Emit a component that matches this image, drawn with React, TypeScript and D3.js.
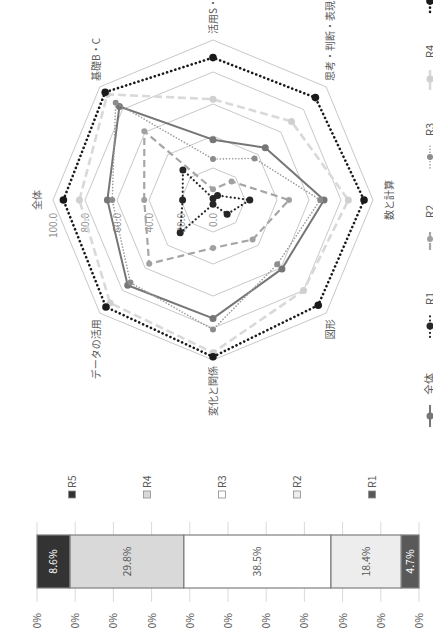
import React from "react";
import * as d3 from "d3";

// ---- Radar data ----
const AXES = ["全体", "基礎B・C", "活用S・A", "思考・判断・表現", "数と計算", "図形", "変化と関係", "データの活用"];
const S_ALL = [66, 82.7, 37.7, 46.2, 69.4, 60.9, 74, 75.4];
const S_R1 = [19, 26.6, 1, 4, 23, 12.5, 2.7, 29];
const S_R2 = [43, 60.7, 6.7, 16.4, 47.5, 35, 30, 56.4];
const S_R3 = [63, 86, 25.6, 36.7, 67, 56.8, 81, 73];
const S_R4 = [83.5, 93.4, 63, 69.4, 84.6, 80, 95.4, 91];
const S_R5 = [93.5, 95.3, 89, 90.5, 94.4, 93, 98, 94.6];
const SERIES_NAMES = ["全体", "R1", "R2", "R3", "R4", "R5"];
const RADAR_TICKS = [0, 20, 40, 60, 80, 100];

// ---- Bar data ----
const BAR_CATS = ["R1", "R2", "R3", "R4", "R5"];
const BAR_VALS = [4.7, 18.4, 38.5, 29.8, 8.6];
const PCT_TICKS = [0, 10, 20, 30, 40, 50, 60, 70, 80, 90, 100];

const FONT = "'Noto Sans CJK JP', 'Noto Sans', sans-serif";
const TXT = "#595959";

type Style = { color: string; width: number; dash: string | null; cap: "round" | "butt"; mr: number; mc: string };
const STYLES: Record<string, Style> = {
  "全体": { color: "#767676", width: 2, dash: null, cap: "butt", mr: 3.5, mc: "#767676" },
  R1: { color: "#262626", width: 2.2, dash: "0.1 4", cap: "round", mr: 3.5, mc: "#262626" },
  R2: { color: "#a6a6a6", width: 2.2, dash: "7 4", cap: "butt", mr: 3, mc: "#a0a0a0" },
  R3: { color: "#9a9a9a", width: 1.6, dash: "0.1 3", cap: "round", mr: 3, mc: "#8c8c8c" },
  R4: { color: "#d9d9d9", width: 2.6, dash: "8 4", cap: "butt", mr: 3.5, mc: "#d0d0d0" },
  R5: { color: "#1a1a1a", width: 2.6, dash: "0.1 4.2", cap: "round", mr: 3.8, mc: "#1a1a1a" },
};
const BAR_COLORS: Record<string, string> = {
  R1: "#595959",
  R2: "#ededed",
  R3: "#ffffff",
  R4: "#d9d9d9",
  R5: "#333333",
};
const BAR_TEXT: Record<string, string> = { R1: "#ffffff", R2: TXT, R3: TXT, R4: TXT, R5: "#ffffff" };

export default function App() {
  const seriesData = [S_ALL, S_R1, S_R2, S_R3, S_R4, S_R5];
  // original (unrotated) canvas is 629 x 433
  const cx = 429, cy = 213, R = 160;
  const r = d3.scaleLinear().domain([0, 100]).range([0, R]);
  const n = AXES.length;
  const ang = (i: number) => (i * 2 * Math.PI) / n;
  const pt = (i: number, v: number): [number, number] => [cx + r(v) * Math.sin(ang(i)), cy - r(v) * Math.cos(ang(i))];
  const radial = d3
    .lineRadial<number>()
    .angle((_d, i) => ang(i))
    .radius((d) => r(d))
    .curve(d3.curveLinearClosed);

  // label placement around radar
  const labelPos = (i: number) => {
    const [vx, vy] = pt(i, 100);
    const s = Math.sin(ang(i));
    const c = Math.cos(ang(i));
    let anchor = "middle";
    if (s > 0.1) anchor = "start";
    else if (s < -0.1) anchor = "end";
    let x = vx + (Math.abs(s) > 0.1 ? Math.sign(s) * 6 : 0);
    let y = vy - (Math.abs(c) > 0.9 ? Math.sign(c) * 16 : Math.sign(c) * 4) + 4;
    if (Math.abs(c) < 0.1) y = vy + 4;
    return { x, y, anchor };
  };

  // bar
  const y = d3.scaleLinear().domain([0, 100]).range([419, 37]);
  const barX0 = 41, barW = 53;
  const cum = Array.from(d3.cumsum(BAR_VALS));
  const segs = BAR_CATS.map((c, i) => ({ c, v: BAR_VALS[i], start: cum[i] - BAR_VALS[i], end: cum[i] }));

  const legendX = [202, 292, 379, 461, 539, 617];

  return (
    <svg
      width={433}
      height={629}
      style={{ position: "absolute", left: 0, top: 0, background: "#fff" }}
      fontFamily={FONT}
    >
      <rect x={0} y={0} width={433} height={629} fill="#fff" />
      <g transform="translate(0,629) rotate(-90)">
        {/* ---------- Bar chart ---------- */}
        <g>
          {PCT_TICKS.map((t) => (
            <line key={"g" + t} x1={27} x2={107} y1={y(t)} y2={y(t)} stroke="#d9d9d9" strokeWidth={1} />
          ))}
          {segs.map((s) => (
            <rect
              key={s.c}
              x={barX0}
              width={barW}
              y={y(s.end)}
              height={y(s.start) - y(s.end)}
              fill={BAR_COLORS[s.c]}
              stroke="#7f7f7f"
              strokeWidth={1.2}
            />
          ))}
          {segs.map((s) => (
            <text
              key={"t" + s.c}
              x={barX0 + barW / 2}
              y={(y(s.start) + y(s.end)) / 2 + 4}
              textAnchor="middle"
              fontSize={10.5}
              fill={BAR_TEXT[s.c]}
            >
              {s.v.toFixed(1) + "%"}
            </text>
          ))}
          {PCT_TICKS.map((t) => (
            <text key={"l" + t} x={16} y={y(t) + 4} textAnchor="end" fontSize={10.5} fill={TXT}>
              {t + "%"}
            </text>
          ))}
          {BAR_CATS.map((c, i) => {
            const ly = 372 - i * 75;
            return (
              <g key={"lg" + c}>
                <rect x={131} y={ly - 3.5} width={7} height={7} fill={BAR_COLORS[c]} stroke="#8c8c8c" strokeWidth={0.8} />
                <text x={141} y={ly + 4} fontSize={10.5} fill={TXT}>
                  {c}
                </text>
              </g>
            );
          })}
        </g>

        {/* ---------- Radar chart ---------- */}
        <g>
          {RADAR_TICKS.filter((t) => t > 0).map((t) => (
            <path
              key={"rg" + t}
              d={radial(AXES.map(() => t)) || ""}
              transform={`translate(${cx},${cy})`}
              fill="none"
              stroke="#c8c8c8"
              strokeWidth={1}
            />
          ))}
          {RADAR_TICKS.map((t) => (
            <text key={"rt" + t} x={cx - 13} y={cy - r(t) + 4} textAnchor="end" fontSize={10} fill="#8a8a8a">
              {t.toFixed(1)}
            </text>
          ))}
          {AXES.map((a, i) => {
            const p = labelPos(i);
            return (
              <text key={"ax" + a} x={p.x} y={p.y} textAnchor={p.anchor as any} fontSize={10} fill={TXT}>
                {a}
              </text>
            );
          })}
          {SERIES_NAMES.map((name, k) => {
            const st = STYLES[name];
            const data = seriesData[k];
            return (
              <g key={"s" + name}>
                <path
                  d={radial(data) || ""}
                  transform={`translate(${cx},${cy})`}
                  fill="none"
                  stroke={st.color}
                  strokeWidth={st.width}
                  strokeDasharray={st.dash || undefined}
                  strokeLinecap={st.cap}
                  strokeLinejoin="round"
                />
                {data.map((v, i) => {
                  const [px, py] = pt(i, v);
                  return <circle key={i} cx={px} cy={py} r={st.mr} fill={st.mc} />;
                })}
              </g>
            );
          })}
          {/* legend */}
          {SERIES_NAMES.map((name, k) => {
            const st = STYLES[name];
            const x0 = legendX[k];
            const ly = 430;
            return (
              <g key={"rl" + name}>
                <line
                  x1={x0}
                  x2={x0 + 22}
                  y1={ly}
                  y2={ly}
                  stroke={st.color}
                  strokeWidth={st.width}
                  strokeDasharray={st.dash || undefined}
                  strokeLinecap={st.cap}
                />
                <circle cx={x0 + 11} cy={ly} r={st.mr} fill={st.mc} />
                <text x={x0 + 32} y={ly + 4} fontSize={11} fill={TXT}>
                  {name}
                </text>
              </g>
            );
          })}
        </g>
      </g>
    </svg>
  );
}
